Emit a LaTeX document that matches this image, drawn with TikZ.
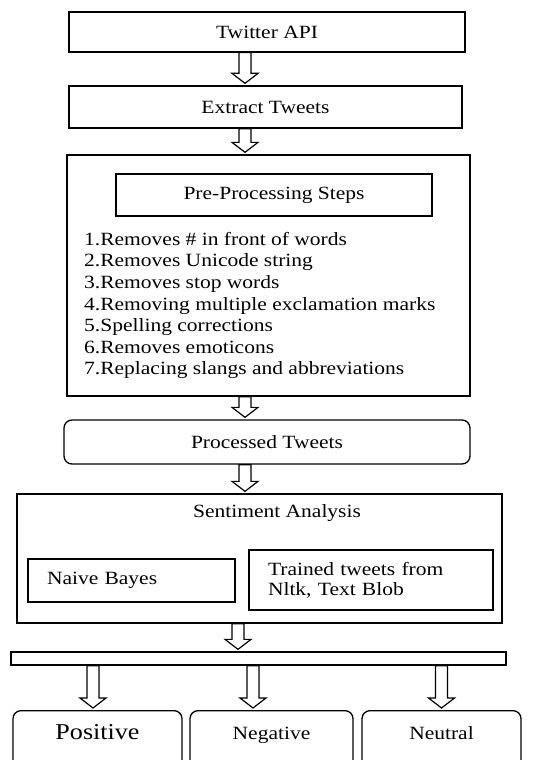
\documentclass[tikz,border=0pt]{standalone}
\usepackage{fontspec}
\setmainfont[FakeStretch=1.15]{Liberation Serif}
\usetikzlibrary{calc}
\tikzset{
	box/.style={draw,line width=1.3pt,inner sep=0pt},
	rbox/.style={box,rounded corners=8pt},
	barrow/.style={draw,line width=1.2pt,fill=white,line join=miter},
	outbox/.style={rbox,anchor=north,text height=26pt,text depth=28pt,inner ysep=3pt},
	every node/.style={font=\fontsize{18.7}{21.6}\selectfont}
}
\newcommand{\blockarrow}[3]{%
	\draw[barrow] let \p1=(#2.south -| #1), \p2=(#3.north -| #1) in
	(\x1-6pt,\y1) -- (\x1-6pt,\y2+12pt) -- (\x1-13pt,\y2+12pt) -- (\x1,\y2+2pt)
	-- (\x1+13pt,\y2+12pt) -- (\x1+6pt,\y2+12pt) -- (\x1+6pt,\y1) -- cycle;}
\begin{document}
\begin{tikzpicture}[x=1pt,y=-1pt]
		\useasboundingbox (0,0) rectangle (549,760);
		\clip (0,0) rectangle (549,760);
		\fill[white] (0,0) rectangle (549,760);
		% pipeline
		\node[box,minimum width=396pt,minimum height=40pt] (api) at (267,32) {Twitter API};
		\node[box,minimum width=393pt,minimum height=42pt] (ext) at (265.5,107) {Extract Tweets};
		\node[box,minimum width=403pt,minimum height=241pt] (prep) at (268.5,275.5) {};
		\node[box,minimum width=316pt,minimum height=42pt] (prept) at (274,195) {Pre-Processing Steps};
		\node[anchor=north west,align=left,inner sep=0pt] (steps) at (84,232) {1.Removes \# in front of words\\2.Removes Unicode string\\3.Removes stop words\\4.Removing multiple exclamation marks\\5.Spelling corrections\\6.Removes emoticons\\7.Replacing slangs and abbreviations};
		\node[rbox,minimum width=406pt,minimum height=44pt] (proc) at (267,442) {Processed Tweets};
		\node[box,minimum width=485pt,minimum height=129pt] (sa) at (259.5,558.5) {};
		\node (satitle) at (277,513) {Sentiment Analysis};
		\node[box,minimum width=207pt,minimum height=43pt,text width=169pt,align=left,inner xsep=19pt] (nb) at (131.5,580.5) {Naive Bayes};
		\node[box,minimum width=244pt,minimum height=60pt,text width=206pt,align=left,inner xsep=19pt,font=\fontsize{18.7}{20}\selectfont] (tt) at (371,580) {Trained tweets from\\Nltk, Text Blob};
		\node[box,minimum width=495pt,minimum height=13pt] (bar) at (258.5,658.5) {};
		% results
		\node[outbox,minimum width=169pt,font=\fontsize{22.7}{26}\selectfont] (pos) at (97.5,710) {Positive};
		\node[outbox,minimum width=163pt] (neg) at (271.5,710) {Negative};
		\node[outbox,minimum width=159pt] (neu) at (441.5,710) {Neutral};
		% arrows
		\coordinate (ax) at (245,0);
		\coordinate (ay) at (238,0);
		\coordinate (px) at (93,0);
		\coordinate (nx) at (253,0);
		\coordinate (ux) at (441.5,0);
		\blockarrow{ax}{api}{ext}
		\blockarrow{ax}{ext}{prep}
		\blockarrow{ax}{prep}{proc}
		\blockarrow{ax}{proc}{sa}
		\blockarrow{ay}{sa}{bar}
		\blockarrow{px}{bar}{pos}
		\blockarrow{nx}{bar}{neg}
		\blockarrow{ux}{bar}{neu}
	    \end{tikzpicture}
\end{document}
